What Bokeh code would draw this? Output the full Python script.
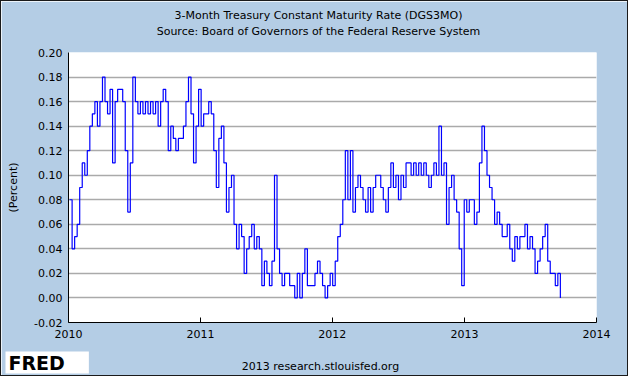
import pandas as pd
from bokeh.plotting import figure
from bokeh.models import (ColumnDataSource, Range1d, FixedTicker, DatetimeTickFormatter,
                          NumeralTickFormatter, Label)
from bokeh.embed import file_html
from bokeh.resources import INLINE

# ---------------- data (weekly readings, percent) ----------------
title_line1 = "3-Month Treasury Constant Maturity Rate (DGS3MO)"
title_line2 = "Source: Board of Governors of the Federal Reserve System"
y_label = "(Percent)"
credit_text = "2013 research.stlouisfed.org"
logo_text = "FRED"

first_week = "2010-01-04"   # Mondays, one reading per week

rate_2010 = [0.08, 0.04, 0.05, 0.06,
             0.09, 0.11, 0.10, 0.12,
             0.14, 0.15, 0.16, 0.14, 0.16,
             0.18, 0.16, 0.15, 0.17,
             0.11, 0.16, 0.17, 0.17, 0.16,
             0.12, 0.07, 0.11, 0.18,
             0.16, 0.15, 0.16, 0.15,
             0.16, 0.15, 0.16, 0.15, 0.16,
             0.14, 0.16, 0.17, 0.16,
             0.12, 0.14, 0.13, 0.12,
             0.13, 0.13, 0.14, 0.16, 0.18,
             0.15, 0.11, 0.14, 0.17]
rate_2011 = [0.14, 0.15, 0.15, 0.16, 0.15,
             0.12, 0.09, 0.13, 0.14,
             0.11, 0.07, 0.09, 0.10,
             0.06, 0.04, 0.06, 0.05,
             0.02, 0.04, 0.05, 0.06, 0.04,
             0.05, 0.04, 0.01, 0.03,
             0.02, 0.01, 0.03, 0.10,
             0.04, 0.02, 0.01, 0.02, 0.02,
             0.01, 0.01, 0.00, 0.02,
             0.00, 0.02, 0.04, 0.01, 0.01,
             0.01, 0.02, 0.03, 0.02,
             0.01, 0.00, 0.01, 0.02]
rate_2012 = [0.01, 0.03, 0.05, 0.06, 0.08,
             0.12, 0.08, 0.12, 0.07,
             0.09, 0.10, 0.09, 0.08,
             0.07, 0.09, 0.07, 0.09, 0.10,
             0.10, 0.09, 0.08, 0.07,
             0.09, 0.11, 0.09, 0.10,
             0.08, 0.10, 0.09, 0.11, 0.11,
             0.10, 0.11, 0.10, 0.11,
             0.10, 0.11, 0.10, 0.09,
             0.10, 0.11, 0.10, 0.14, 0.10,
             0.11, 0.06, 0.09, 0.10,
             0.08, 0.07, 0.04, 0.01, 0.08]
rate_2013 = [0.07, 0.08, 0.08, 0.06,
             0.07, 0.11, 0.14, 0.12,
             0.10, 0.09, 0.08, 0.06,
             0.07, 0.06, 0.05, 0.05, 0.06,
             0.04, 0.03, 0.05, 0.04,
             0.05, 0.05, 0.06, 0.04,
             0.05, 0.04, 0.02, 0.03, 0.04,
             0.05, 0.06, 0.03, 0.02,
             0.02, 0.01, 0.02, 0.00]

year_ticks = [2010, 2011, 2012, 2013, 2014]
y_ticks = [-0.02, 0.00, 0.02, 0.04, 0.06, 0.08, 0.10, 0.12, 0.14, 0.16, 0.18, 0.20]

# ---------------- build ----------------
rates = rate_2010 + rate_2011 + rate_2012 + rate_2013
dates = pd.date_range(first_week, periods=len(rates), freq="W-MON")
source = ColumnDataSource(data=dict(date=dates, rate=rates))

BG = "#B4CDE5"
FONT = "DejaVu Sans"
W, H = 628, 376
L, R, T, B = 67, 33, 51, 55

x0 = pd.Timestamp(f"{year_ticks[0]}-01-01")
x1 = pd.Timestamp(f"{year_ticks[-1]}-01-01")

p = figure(width=W, height=H, output_backend="svg", toolbar_location=None,
           title=None, x_axis_type="datetime",
           x_range=Range1d(x0, x1), y_range=Range1d(y_ticks[0], y_ticks[-1]),
           min_border_left=L, min_border_right=R, min_border_top=T, min_border_bottom=B,
           background_fill_color="white", border_fill_color=BG,
           outline_line_color=None)
p.styles = {"border": "1px solid #1a1a1a"}

p.step(x="date", y="rate", source=source, mode="after",
       line_color="#0000FF", line_width=1.2)

tick_ms = [pd.Timestamp(f"{y}-01-01").value // 10**6 for y in year_ticks]
p.xaxis.ticker = FixedTicker(ticks=tick_ms)
p.xaxis.formatter = DatetimeTickFormatter(years="%Y", months="%Y", days="%Y",
                                          hours="%Y", minutes="%Y", seconds="%Y",
                                          milliseconds="%Y", microseconds="%Y")
p.yaxis.ticker = FixedTicker(ticks=y_ticks)
p.yaxis.formatter = NumeralTickFormatter(format="0.00")

for ax in (p.xaxis[0], p.yaxis[0]):
    ax.axis_line_color = "black"
    ax.axis_line_width = 1
    ax.major_tick_line_color = "black"
    ax.minor_tick_line_color = None
    ax.major_label_text_font = FONT
    ax.major_label_text_font_size = "11px"
    ax.major_label_text_color = "black"

p.xaxis.major_tick_in = 5
p.xaxis.major_tick_out = 0
p.xaxis.major_label_standoff = 7
p.yaxis.major_tick_in = 0
p.yaxis.major_tick_out = 0
p.yaxis.major_label_standoff = 6

p.yaxis.axis_label = y_label
p.yaxis.axis_label_text_font = FONT
p.yaxis.axis_label_text_font_size = "11px"
p.yaxis.axis_label_text_font_style = "normal"
p.yaxis.axis_label_text_color = "black"
p.yaxis.axis_label_standoff = 11

p.xgrid.visible = False
p.ygrid.ticker = FixedTicker(ticks=y_ticks)
p.ygrid.grid_line_color = "#AAAAAA"
p.ygrid.grid_line_width = 1.3

def panel_text(txt, side, x, y, **kw):
    opts = dict(x=x, y=y, x_units="screen", y_units="screen", text=txt,
                text_font=FONT, text_font_size="11px", text_color="black",
                text_align="center", text_baseline="middle")
    opts.update(kw)
    p.add_layout(Label(**opts), side)

# heading: two stacked panels above the frame (inner panel added first)
panel_text(title_line2, "above", 250, 21.5, padding=dict(left=0, right=0, top=6, bottom=6))
panel_text(title_line1, "above", 250, 12.5, padding=dict(left=0, right=0, top=6, bottom=6))

# bottom row: logo panel first, credit panel below it
panel_text(logo_text, "below", -63, 0, text_align="left", text_font_size="19px",
           text_font_style="bold", background_fill_color="white",
           padding=dict(left=3, right=24, top=0, bottom=0))
panel_text(credit_text, "below", 252, 9)

open("out.html", "w").write(file_html(p, INLINE))
